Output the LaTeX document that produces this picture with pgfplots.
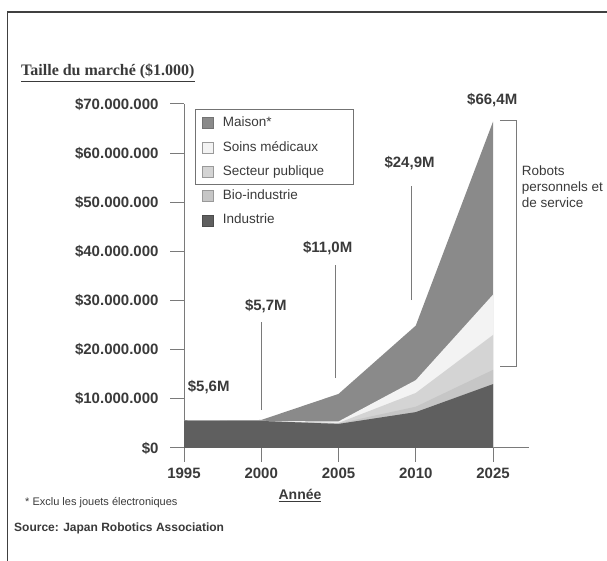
\documentclass[border=0pt]{standalone}
\usepackage{fontspec}
\setmainfont{Liberation Sans}
\newfontfamily\titlefont{Liberation Serif}
\usepackage{pgfplots}
\pgfplotsset{compat=1.18}

\definecolor{cMaison}{HTML}{8A8A8A}
\definecolor{cSoins}{HTML}{F3F3F3}
\definecolor{cSecteur}{HTML}{D4D4D4}
\definecolor{cBio}{HTML}{C6C6C6}
\definecolor{cIndus}{HTML}{5F5F5F}
\definecolor{cLine}{HTML}{7A7A7A}
\definecolor{cText}{HTML}{3A3A3A}

\tikzset{tot/.style={font=\bfseries\fontsize{15bp}{17bp}\selectfont, text=cText, inner sep=0pt}}

\begin{document}
\begin{tikzpicture}
\path[use as bounding box] (0,0) rectangle (607bp,561bp);
% cadre (haut et gauche)
\draw[line width=1.5bp, black!75] (7.5bp,0) -- (7.5bp,549bp) -- (607bp,549bp);

\begin{axis}[
  at={(184bp,113bp)}, anchor=south west,
  scale only axis, width=345bp, height=344bp,
  xmin=0, xmax=4.466, ymin=0, ymax=70,
  axis x line=bottom, axis y line=left,
  axis line style={-, draw=cLine, line width=1bp},
  tick align=outside, major tick length=14bp,
  tick style={draw=cLine, line width=1bp},
  xtick={0,1,2,3,4},
  xticklabels={1995,2000,2005,2010,2025},
  ytick={0,10,20,30,40,50,60,70},
  yticklabels={\$0,\$10.000.000,\$20.000.000,\$30.000.000,\$40.000.000,\$50.000.000,\$60.000.000,\$70.000.000},
  yticklabel style={font=\bfseries\fontsize{15bp}{17bp}\selectfont, text=cText, xshift=-8bp},
  xticklabel style={font=\bfseries\fontsize{15bp}{17bp}\selectfont, text=cText, yshift=-3bp},
  clip=false,
  legend image code/.code={\path[#1, line width=0.8bp] (0bp,-5.5bp) rectangle (11bp,5.5bp);},
  legend style={at={(0.052,0.962)}, anchor=north west, draw=none, fill=none,
    inner sep=0pt, row sep=12.3bp, column sep=9bp,
    font=\fontsize{13.5bp}{15bp}\selectfont, text=cText,
    nodes={inner sep=0pt, text height=9.5bp, text depth=2.5bp}},
  legend cell align=left,
]
% couches cumulées (du total vers le bas)
\addplot[fill=cMaison, draw=none, forget plot] coordinates {(0,5.6) (1,5.7) (2,11.0) (3,24.9) (4,66.4)} \closedcycle;
\addplot[fill=cSoins, draw=none, forget plot] coordinates {(0,5.6) (1,5.5) (2,5.4) (3,13.8) (4,31.2)} \closedcycle;
\addplot[fill=cSecteur, draw=none, forget plot] coordinates {(0,5.6) (1,5.5) (2,5.1) (3,11.2) (4,23.0)} \closedcycle;
\addplot[fill=cBio, draw=none, forget plot] coordinates {(0,5.6) (1,5.5) (2,5.0) (3,8.4) (4,15.9)} \closedcycle;
\addplot[fill=cIndus, draw=none, forget plot] coordinates {(0,5.6) (1,5.5) (2,4.9) (3,7.3) (4,13.0)} \closedcycle;

\addlegendimage{fill=cMaison, draw=black!55}
\addlegendentry{Maison*}
\addlegendimage{fill=cSoins, draw=black!40}
\addlegendentry{Soins médicaux}
\addlegendimage{fill=cSecteur, draw=black!40}
\addlegendentry{Secteur publique}
\addlegendimage{fill=cBio, draw=black!40}
\addlegendentry{Bio-industrie}
\addlegendimage{fill=cIndus, draw=black!70}
\addlegendentry{Industrie}

% totaux
\node[tot] at (axis cs:0.32,12.4) {\$5,6M};
\node[tot] at (axis cs:1.06,28.9) {\$5,7M};
\node[tot] at (axis cs:1.86,40.7) {\$11,0M};
\node[tot] at (axis cs:2.92,58.0) {\$24,9M};
\node[tot] at (axis cs:3.99,70.8) {\$66,4M};
\draw[cLine, line width=1bp] (axis cs:1,7.7) -- (axis cs:1,25.6);
\draw[cLine, line width=1bp] (axis cs:1.955,14.2) -- (axis cs:1.955,37.2);
\draw[cLine, line width=1bp] (axis cs:2.95,30.1) -- (axis cs:2.95,53.3);
% accolade
\draw[cLine, line width=1bp] (axis cs:4.09,66.7) -- (axis cs:4.31,66.7) -- (axis cs:4.31,16.5) -- (axis cs:4.09,16.5);
\node[anchor=north west, align=left, inner sep=0pt, text=cText,
  font=\fontsize{13.5bp}{16bp}\selectfont] at (axis cs:4.37,57.4) {Robots\\personnels et\\de service};
\end{axis}

% cadre de la légende (trois premières entrées)
\draw[black!55, line width=1bp] (195bp,451bp) rectangle (353bp,376bp);

% titre, axe x, notes
\node[anchor=base west, inner sep=0pt, text=cText] at (21bp,485bp)
  {\titlefont\bfseries\fontsize{16bp}{18bp}\selectfont\underline{Taille du marché (\$1.000)}};
\node[anchor=base, inner sep=0pt, text=cText] at (300bp,61bp)
  {\bfseries\fontsize{14bp}{16bp}\selectfont\underline{Année}};
\node[anchor=base west, inner sep=0pt, text=cText] at (25bp,55bp)
  {\fontsize{11bp}{13bp}\selectfont * Exclu les jouets électroniques};
\node[anchor=base west, inner sep=0pt, text=cText] at (14bp,30bp)
  {\bfseries\fontsize{12bp}{14bp}\selectfont Source: Japan Robotics Association};
\end{tikzpicture}
\end{document}
